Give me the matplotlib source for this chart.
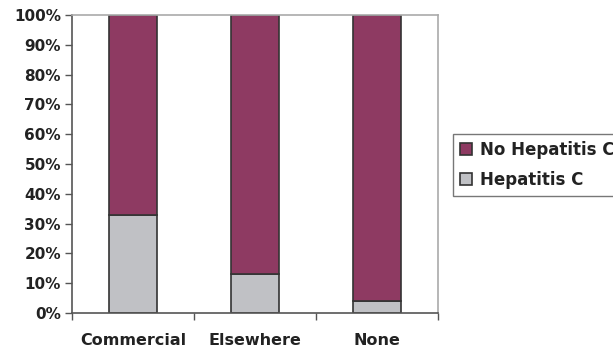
import numpy as np
from matplotlib import pyplot as plt
from matplotlib.ticker import PercentFormatter

plt.rcParams['font.family'] = ['DejaVu Sans']

categories = ['Commercial', 'Elsewhere', 'None']
hep_c = [33, 13, 4]
no_hep_c = [67, 87, 96]

fig = plt.figure(figsize=(6.13, 3.51), dpi=100)
ax = fig.add_axes([0.1175, 0.108, 0.597, 0.849])

index = np.arange(len(categories))
bar_width = 0.4
edge = '#333333'
ax.bar(index, hep_c, width=bar_width, color='#c0c1c5', edgecolor=edge,
       linewidth=1.2, label='Hepatitis C', zorder=2)
ax.bar(index, no_hep_c, bottom=hep_c, width=bar_width, color='#8e3a62',
       edgecolor=edge, linewidth=1.2, label='No Hepatitis C', zorder=2)

ax.set_xlim(-0.5, len(categories) - 0.5)
ax.set_ylim(0, 100)
ax.set_yticks(np.arange(0, 101, 10))
ax.yaxis.set_major_formatter(PercentFormatter(decimals=0))
ax.set_xticks(index)
ax.set_xticklabels(categories, fontsize=11.5, fontweight='bold', color='#222222')
ax.set_xticks(np.arange(-0.5, len(categories)), minor=True)
ax.tick_params(axis='x', which='major', length=0, pad=14)
ax.tick_params(axis='x', which='minor', length=5, width=1, color='#555555', direction='out')
ax.tick_params(axis='y', length=5, width=1, color='#555555', direction='out', pad=3)
for lbl in ax.get_yticklabels():
    lbl.set_fontsize(11)
    lbl.set_fontweight('bold')
    lbl.set_color('#222222')

ax.spines['left'].set_color('#555555')
ax.spines['bottom'].set_color('#555555')
ax.spines['left'].set_linewidth(1.2)
ax.spines['bottom'].set_linewidth(1.2)
ax.spines['top'].set_color('#aaaaaa')
ax.spines['right'].set_color('#aaaaaa')
ax.spines['top'].set_linewidth(1.2)
ax.spines['right'].set_linewidth(1.2)

# legend sits at the right edge and runs past it
handles, labels = ax.get_legend_handles_labels()
leg = fig.legend(handles[::-1], labels[::-1], loc='upper left',
                 bbox_to_anchor=(453 / 613, 1 - 134 / 351),
                 prop={'weight': 'bold', 'size': 12}, frameon=True,
                 fancybox=False, handlelength=0.75, handleheight=0.75,
                 handletextpad=0.45, borderpad=0.4, labelspacing=0.75,
                 borderaxespad=0)
leg.get_frame().set_edgecolor('#555555')
leg.get_frame().set_linewidth(1.0)
for txt in leg.get_texts():
    txt.set_color('#222222')

fig.savefig('out.png', dpi=100)
